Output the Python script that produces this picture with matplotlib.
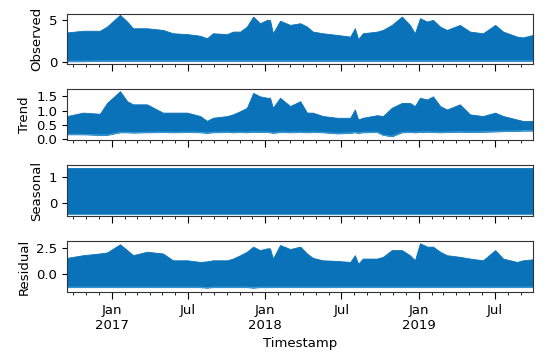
import matplotlib
matplotlib.use("Agg")
import matplotlib.pyplot as plt
import matplotlib.dates as mdates
import pandas as pd

# Envelope of the dense hourly series
dates = ['2016-09-16', '2016-10-24', '2016-12-03', '2016-12-20',
         '2017-01-20', '2017-02-06', '2017-02-20', '2017-03-25', '2017-05-02', '2017-05-26',
         '2017-06-29', '2017-07-30', '2017-08-15', '2017-08-29', '2017-10-02', '2017-10-16',
         '2017-11-02', '2017-11-18', '2017-12-03', '2017-12-19',
         '2018-01-05', '2018-01-12', '2018-01-19', '2018-02-05', '2018-03-01', '2018-03-25',
         '2018-04-10', '2018-04-24', '2018-05-18', '2018-06-21', '2018-07-22', '2018-08-02',
         '2018-08-10', '2018-08-21', '2018-09-24', '2018-10-08', '2018-10-29', '2018-11-22',
         '2018-12-11', '2018-12-23',
         '2019-01-04', '2019-01-21', '2019-02-04', '2019-02-21', '2019-03-09', '2019-04-09',
         '2019-05-03', '2019-06-03', '2019-07-02', '2019-07-21', '2019-08-23', '2019-09-06',
         '2019-09-30']

observed_hi = [3.5, 3.7, 3.7, 4.2,
               5.6, 4.8, 4.0, 4.0, 3.8, 3.4, 3.3, 3.1, 2.8, 3.4, 3.3, 3.6, 3.6, 4.2, 5.4, 4.6,
               5.0, 5.0, 3.4, 4.9, 4.4, 4.6, 4.2, 3.6, 3.4, 3.2, 3.0, 4.0, 2.7, 3.4, 3.6, 3.8,
               4.4, 5.4, 4.4, 3.4,
               5.2, 4.8, 5.0, 4.2, 3.8, 4.4, 3.6, 3.4, 4.4, 3.6, 3.0, 2.9, 3.2]
observed_lo = [0.05, 0.05, 0.1, 0.1,
               0.1, 0.1, 0.1, 0.1, 0.1, 0.1, 0.1, 0.1, 0.1, 0.1, 0.1, 0.1, 0.1, 0.1, 0.1, 0.1,
               0.1, 0.1, 0.1, 0.1, 0.1, 0.1, 0.1, 0.1, 0.1, 0.1, 0.1, 0.1, 0.1, 0.1, 0.1, 0.1,
               0.1, 0.1, 0.1, 0.1,
               0.1, 0.1, 0.1, 0.1, 0.1, 0.1, 0.1, 0.1, 0.1, 0.1, 0.1, 0.1, 0.1]

trend_hi = [0.81, 0.93, 0.89, 1.27,
            1.68, 1.33, 1.22, 1.22, 0.93, 0.93, 0.93, 0.81, 0.64, 0.75, 0.81, 0.87, 0.98, 1.10,
            1.62, 1.50,
            1.45, 1.45, 1.10, 1.45, 1.16, 1.33, 0.93, 0.93, 0.81, 0.75, 0.75, 1.04, 0.69, 0.75,
            0.84, 0.81, 1.10, 1.27, 1.27, 1.16,
            1.45, 1.39, 1.50, 1.16, 1.04, 1.22, 0.87, 0.81, 0.93, 0.81, 0.69, 0.64, 0.64]
trend_lo = [0.17, 0.17, 0.15, 0.15,
            0.24, 0.24, 0.23, 0.24, 0.25, 0.24, 0.25, 0.24, 0.22, 0.24, 0.25, 0.24, 0.25, 0.24,
            0.26, 0.25,
            0.25, 0.24, 0.22, 0.25, 0.24, 0.25, 0.24, 0.25, 0.24, 0.20, 0.22, 0.24, 0.22, 0.24,
            0.25, 0.15, 0.10, 0.24, 0.25, 0.24,
            0.25, 0.26, 0.25, 0.24, 0.25, 0.26, 0.25, 0.26, 0.27, 0.28, 0.29, 0.30, 0.30]

seasonal_hi = [1.38, 1.38]
seasonal_lo = [-0.41, -0.41]
seasonal_dates = [dates[0], dates[-1]]

resid_hi = [1.57, 1.83, 2.0, 2.1,
            2.9, 2.33, 1.83, 2.17, 2.0, 1.33, 1.33, 1.17, 1.23, 1.33, 1.33, 1.5, 1.83, 2.17,
            2.67, 2.33,
            2.5, 2.5, 1.5, 2.83, 2.43, 2.67, 2.0, 1.57, 1.33, 1.27, 1.17, 1.83, 1.0, 1.5,
            1.5, 1.67, 2.33, 2.33, 1.83, 1.33,
            3.0, 2.67, 2.67, 2.17, 1.83, 1.67, 1.5, 1.33, 2.33, 1.5, 1.17, 1.33, 1.43]
resid_lo = [-1.3, -1.3, -1.3, -1.3,
            -1.3, -1.3, -1.3, -1.3, -1.3, -1.3, -1.3, -1.3, -1.35, -1.3, -1.3, -1.3, -1.3,
            -1.3, -1.35, -1.3,
            -1.3, -1.3, -1.3, -1.3, -1.3, -1.3, -1.3, -1.3, -1.3, -1.3, -1.3, -1.3, -1.3,
            -1.3, -1.3, -1.3, -1.3, -1.3, -1.3, -1.3,
            -1.3, -1.3, -1.3, -1.3, -1.3, -1.3, -1.3, -1.3, -1.3, -1.3, -1.3, -1.3, -1.3]

blue = '#0a72b8'
edge = '#3d9ad6'

t = pd.to_datetime(dates)
ts = pd.to_datetime(seasonal_dates)

fig, axes = plt.subplots(4, 1, figsize=(5.5, 3.58), dpi=100, sharex=True)
fig.subplots_adjust(left=0.122, right=0.969, top=0.962, bottom=0.185, hspace=0.5)

panels = [
    (axes[0], t, observed_lo, observed_hi, 'Observed', (-0.3, 5.75), [0, 5]),
    (axes[1], t, trend_lo, trend_hi, 'Trend', (-0.03, 1.74), [0.0, 0.5, 1.0, 1.5]),
    (axes[2], ts, seasonal_lo, seasonal_hi, 'Seasonal', (-0.5, 1.47), [0, 1]),
    (axes[3], t, resid_lo, resid_hi, 'Residual', (-1.75, 3.2), [0.0, 2.5]),
]

for ax, x, lo, hi, name, lim, ticks in panels:
    ax.fill_between(x, lo, hi, color=blue, linewidth=0.6, edgecolor=blue)
    ax.plot(x, lo, color=edge, linewidth=0.8)
    ax.set_ylim(*lim)
    ax.set_yticks(ticks)
    ax.set_ylabel(name, fontsize=9.5)
    ax.tick_params(labelsize=9.5)
    for s in ax.spines.values():
        s.set_color('#333333')

axes[3].set_xlim(t[0], t[-1])
axes[3].xaxis.set_major_locator(mdates.MonthLocator(bymonth=[1, 7]))
axes[3].xaxis.set_minor_locator(mdates.MonthLocator())


def fmt(x, pos):
    d = mdates.num2date(x)
    if d.month == 1:
        return 'Jan\n%d' % d.year
    return d.strftime('%b')


axes[3].xaxis.set_major_formatter(plt.FuncFormatter(fmt))
axes[3].set_xlabel('Timestamp', fontsize=9.5)
for ax in axes:
    ax.tick_params(axis='x', which='major', length=5)
    ax.tick_params(axis='x', which='minor', length=2.5)

fig.savefig('out.png', dpi=100)
